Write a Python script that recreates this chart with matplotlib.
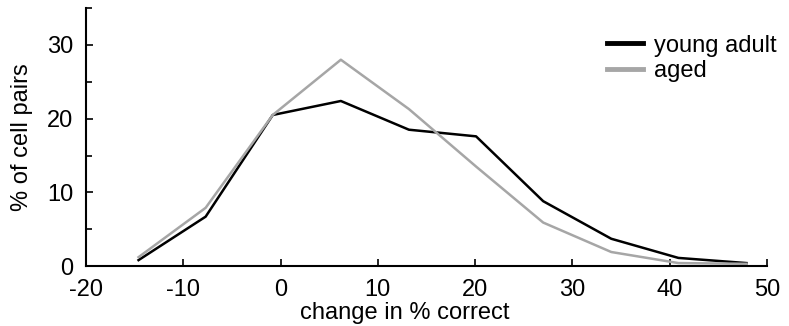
import numpy as np
import matplotlib.pyplot as plt

# ============== DATA ==============

# bin centres (change in % correct)
bin_centres = [-14.6, -7.7, -0.8, 6.2, 13.2, 20.1, 27.0, 34.0, 40.9, 47.9]

# % of cell pairs per bin
young_adult = [0.8, 6.7, 20.5, 22.4, 18.5, 17.6, 8.8, 3.7, 1.1, 0.4]
aged = [1.2, 7.9, 20.5, 28.0, 21.3, 13.5, 5.9, 1.9, 0.4, 0.3]

x_ticks = [-20, -10, 0, 10, 20, 30, 40, 50]
y_ticks = [0, 10, 20, 30]

# ============== PLOT ==============

plt.rcParams['font.family'] = ['Liberation Sans', 'DejaVu Sans']
plt.rcParams['axes.unicode_minus'] = False

fig = plt.figure(figsize=(7.89, 3.26), dpi=100)
ax = fig.add_axes([0.109, 0.184, 0.863, 0.791])

ax.plot(bin_centres, young_adult, color='black', lw=1.8, label='young adult')
ax.plot(bin_centres, aged, color='#a6a6a6', lw=1.8, label='aged')

ax.set_xlim(-20, 50)
ax.set_ylim(0, 35)
ax.set_xticks(x_ticks)
ax.set_yticks(y_ticks)
ax.set_yticks([5, 15, 25, 35], minor=True)

for side in ['top', 'right']:
	ax.spines[side].set_visible(False)
for side in ['left', 'bottom']:
	ax.spines[side].set_linewidth(1.5)

ax.tick_params(axis='both', which='both', direction='in', width=1.2,
			   labelsize=17)
ax.tick_params(axis='x', which='both', pad=9)
ax.tick_params(axis='y', which='both', pad=9)
ax.tick_params(axis='both', which='major', length=5)
ax.tick_params(axis='both', which='minor', length=4)

ax.set_xlabel('change in % correct', fontsize=17)
ax.xaxis.set_label_coords(0.468, -0.14)
ax.set_ylabel('% of cell pairs', fontsize=17, labelpad=10)

leg = ax.legend(loc='upper right', frameon=False, fontsize=17,
				handlelength=1.5, handletextpad=0.5, labelspacing=0.15,
				bbox_to_anchor=(1.046, 0.98))
for line in leg.get_lines():
	line.set_linewidth(3.5)

fig.savefig('out.png', dpi=100)
